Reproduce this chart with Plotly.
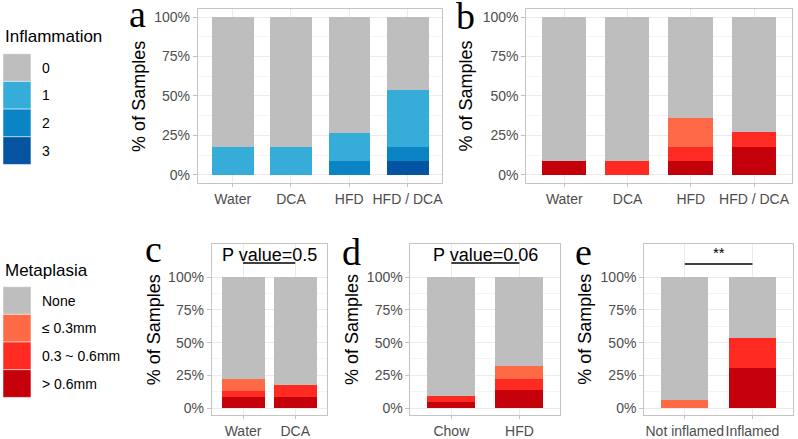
import plotly.graph_objects as go

W, H = 798, 439

# Panel a - inflamacion por grupo
grupos_ab = ["Water", "DCA", "HFD", "HFD / DCA"]
infl_3 = [0, 0, 0, 0.085]
infl_2 = [0, 0, 0.085, 0.092]
infl_1 = [0.177, 0.177, 0.18, 0.36]
infl_0 = [0.823, 0.823, 0.735, 0.463]

# Panel b - metaplasia por grupo
b_alto = [0.088, 0, 0.088, 0.177]
b_medio = [0, 0.088, 0.089, 0.095]
b_bajo = [0, 0, 0.186, 0]
b_nada = [0.912, 0.912, 0.637, 0.728]

# Panel c
grupos_c = ["Water", "DCA"]
c_alto = [0.084, 0.084]
c_medio = [0.045, 0.093]
c_bajo = [0.091, 0]
c_nada = [0.78, 0.823]

# Panel d
grupos_d = ["Chow", "HFD"]
d_alto = [0.046, 0.137]
d_medio = [0.048, 0.088]
d_bajo = [0, 0.095]
d_nada = [0.906, 0.68]

# Panel e
grupos_e = ["Not inflamed", "Inflamed"]
e_alto = [0, 0.309]
e_medio = [0, 0.23]
e_bajo = [0.066, 0]
e_nada = [0.934, 0.461]

niveles_infl = ["0", "1", "2", "3"]
niveles_meta = ["None", "≤ 0.3mm", "0.3 ~ 0.6mm", "> 0.6mm"]
p_valores = ["P value=0.5", "P value=0.06", "**"]

GRIS = "#BEBEBE"
col_infl = {"0": GRIS, "1": "#36ADD9", "2": "#0A84C5", "3": "#0554A1"}
col_meta = {"None": GRIS, "≤ 0.3mm": "#FF6A46", "0.3 ~ 0.6mm": "#FF2A22", "> 0.6mm": "#C4000B"}


def px(x):
    return x / W


def py(y):
    return 1 - y / H


fig = go.Figure()


def agregar_barras(ax, grupos, series, colores, ancho):
    xa = "x" if ax == 1 else f"x{ax}"
    ya = "y" if ax == 1 else f"y{ax}"
    for nombre, vals in series:
        fig.add_trace(go.Bar(
            x=grupos, y=vals, name=nombre, xaxis=xa, yaxis=ya,
            width=ancho, marker=dict(color=colores[nombre], line=dict(width=0)),
            showlegend=False, hoverinfo="skip"
        ))


agregar_barras(1, grupos_ab, [("3", infl_3), ("2", infl_2), ("1", infl_1), ("0", infl_0)], col_infl, 0.72)
agregar_barras(2, grupos_ab, [("> 0.6mm", b_alto), ("0.3 ~ 0.6mm", b_medio), ("≤ 0.3mm", b_bajo), ("None", b_nada)], col_meta, 0.7)
agregar_barras(3, grupos_c, [("> 0.6mm", c_alto), ("0.3 ~ 0.6mm", c_medio), ("≤ 0.3mm", c_bajo), ("None", c_nada)], col_meta, 0.82)
agregar_barras(4, grupos_d, [("> 0.6mm", d_alto), ("0.3 ~ 0.6mm", d_medio), ("≤ 0.3mm", d_bajo), ("None", d_nada)], col_meta, 0.7)
agregar_barras(5, grupos_e, [("> 0.6mm", e_alto), ("0.3 ~ 0.6mm", e_medio), ("≤ 0.3mm", e_bajo), ("None", e_nada)], col_meta, 0.7)

# Dominios de cada panel en pixeles (izq, der, arriba, abajo)
paneles = {
    1: (198, 443, 9, 184, 4, [-0.053, 1.052]),
    2: (527, 793, 9, 184, 4, [-0.053, 1.052]),
    3: (212, 327, 245, 417, 2, [-0.053, 1.253]),
    4: (411, 561, 245, 417, 2, [-0.053, 1.253]),
    5: (645, 794, 245, 417, 2, [-0.053, 1.253]),
}

BORDE = "#C4C4C4"
layout_ejes = {}
for k, (x0, x1, y0, y1, n, yr) in paneles.items():
    sx = "" if k == 1 else str(k)
    layout_ejes[f"xaxis{sx}"] = dict(
        domain=[px(x0), px(x1)], anchor=f"y{sx}", type="category",
        range=[-0.6, n - 0.4], showgrid=True, gridcolor="#EBEBEB", gridwidth=1,
        ticks="outside", ticklen=3, tickcolor=BORDE, showline=True, mirror=True,
        linecolor=BORDE, linewidth=1, zeroline=False, fixedrange=True, tickangle=0,
        tickfont=dict(family="Liberation Sans", size=14, color="#4D4D4D")
    )
    layout_ejes[f"yaxis{sx}"] = dict(
        domain=[py(y1), py(y0)], anchor=f"x{sx}", range=yr,
        tickvals=[0, 0.25, 0.5, 0.75, 1], tickformat=".0%",
        showgrid=True, gridcolor="#EBEBEB", gridwidth=1,
        minor=dict(tickvals=[0.125, 0.375, 0.625, 0.875], showgrid=True, gridcolor="#F4F4F4", ticks=""),
        ticks="outside", ticklen=4, tickcolor=BORDE, showline=True, mirror=True,
        linecolor=BORDE, linewidth=1, zeroline=False, fixedrange=True,
        tickfont=dict(family="Liberation Sans", size=14, color="#4D4D4D")
    )

anotaciones = []
shapes = []

# Titulos de ejes y
for xc, (x0, x1, y0, y1, n, yr) in zip([139, 467, 155, 353, 586], paneles.values()):
    anotaciones.append(dict(
        x=px(xc), y=py((y0 + y1) / 2), xref="paper", yref="paper", text="% of Samples",
        textangle=-90, showarrow=False, xanchor="center", yanchor="middle",
        font=dict(family="Liberation Sans", size=18, color="black")
    ))

# Letras de panel
for letra, xc, base in [("a", 138, 26), ("b", 466, 28), ("c", 154, 262), ("d", 352, 265), ("e", 584, 265)]:
    anotaciones.append(dict(
        x=px(xc), y=py(base - 12), xref="paper", yref="paper", text=letra,
        showarrow=False, xanchor="center", yanchor="middle",
        font=dict(family="Liberation Serif", size=38, color="black")
    ))

# Valores P y barras de comparacion
for ax, texto, yt, yl, tam in [(3, p_valores[0], 1.17, 1.108, 18), (4, p_valores[1], 1.17, 1.108, 18), (5, p_valores[2], 1.19, 1.10, 15)]:
    anotaciones.append(dict(
        x=0.5, y=yt, xref=f"x{ax}", yref=f"y{ax}", text=texto, showarrow=False,
        xanchor="center", yanchor="middle",
        font=dict(family="Liberation Sans", size=tam, color="black")
    ))
    shapes.append(dict(type="line", xref=f"x{ax}", yref=f"y{ax}", x0=0, x1=1, y0=yl, y1=yl,
                       line=dict(color="black", width=1.5)))


# Leyendas
def leyenda(titulo, y_titulo, niveles, colores, y_inicio):
    anotaciones.append(dict(
        x=px(3), y=py(y_titulo), xref="paper", yref="paper", text=titulo, showarrow=False,
        xanchor="left", yanchor="middle", font=dict(family="Liberation Sans", size=17, color="black")
    ))
    for i, niv in enumerate(niveles):
        ya = y_inicio + i * 27.8
        shapes.append(dict(type="rect", xref="paper", yref="paper", x0=px(3), x1=px(31),
                           y0=py(ya + 27.8), y1=py(ya), fillcolor=colores[niv],
                           line=dict(color="white", width=0.5)))
        anotaciones.append(dict(
            x=px(40), y=py(ya + 14), xref="paper", yref="paper", text=niv, showarrow=False,
            xanchor="left", yanchor="middle", font=dict(family="Liberation Sans", size=14, color="black")
        ))


leyenda("Inflammation", 37, niveles_infl, col_infl, 54)
leyenda("Metaplasia", 272, niveles_meta, col_meta, 288)

fig.update_layout(
    width=W, height=H, barmode="stack", bargap=0,
    margin=dict(l=0, r=0, t=0, b=0),
    plot_bgcolor="white", paper_bgcolor="white",
    annotations=anotaciones, shapes=shapes,
    **layout_ejes
)

# quitar el margen por defecto del body para que la figura quede en (0, 0)
fig.write_html("out.html", config={"displayModeBar": False},
               post_script="document.body.style.margin='0';")
